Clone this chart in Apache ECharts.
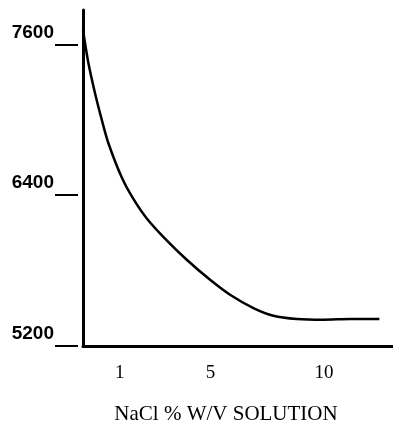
<!DOCTYPE html>
<html>
<head>
<meta charset="utf-8">
<script src="https://cdn.jsdelivr.net/npm/echarts@6/dist/echarts.min.js"></script>
<style>
html,body{margin:0;padding:0;background:#fff;}
#chart{width:393px;height:428px;}
</style>
</head>
<body>
<div id="chart"></div>
<script>
// NaCl concentration (% w/v) and measured value
const naclPercent = [-0.62, -0.38, -0.09, 0.21, 0.50, 1.09, 1.60, 2.19, 3.07, 3.95, 4.98, 5.86, 6.89, 7.77, 8.80, 9.97, 11.15, 12.44];
const values      = [7714, 7449, 7211, 6998, 6813, 6540, 6370, 6215, 6040, 5886, 5727, 5608, 5502, 5441, 5415, 5409, 5415, 5415];
const xTickLabels = [1, 5, 10];
const yTickLabels = [5200, 6400, 7600];
const xTitle = 'NaCl % W/V SOLUTION';

const chart = echarts.init(document.getElementById('chart'));
chart.setOption({
  animation: false,
  backgroundColor: '#fff',
  grid: { left: 83, right: 0, top: 10, bottom: 82, outerBoundsMode: 'none', containLabel: false },
  xAxis: {
    type: 'value',
    min: -0.62,
    max: 13.04,
    name: xTitle,
    nameLocation: 'middle',
    nameGap: 58,
    nameTextStyle: { fontFamily: 'Liberation Serif', fontSize: 21, color: '#000', padding: [0, 24, 0, 0] },
    axisLine: { show: true, onZero: false, lineStyle: { color: '#000', width: 3 } },
    axisTick: { show: false },
    splitLine: { show: false },
    axisLabel: {
      customValues: xTickLabels,
      margin: 18,
      fontFamily: 'Liberation Serif',
      fontSize: 19,
      color: '#000'
    }
  },
  yAxis: {
    type: 'value',
    min: 5200,
    max: 7873,
    axisLine: { show: true, onZero: false, lineStyle: { color: '#000', width: 3 } },
    axisTick: {
      show: true,
      customValues: yTickLabels,
      length: 28,
      lineStyle: { color: '#000', width: 2, type: [0, 5, 23, 100] }
    },
    splitLine: { show: false },
    axisLabel: {
      customValues: yTickLabels,
      formatter: (v) => String(v),
      margin: 29,
      verticalAlign: 'bottom',
      lineHeight: 24,
      fontFamily: 'Liberation Sans',
      fontWeight: 'bold',
      fontSize: 19,
      color: '#000'
    }
  },
  series: [{
    type: 'line',
    data: naclPercent.map((x, i) => [x, values[i]]),
    smooth: 0.3,
    showSymbol: false,
    clip: false,
    lineStyle: { color: '#000', width: 2.5 }
  }]
});
</script>
</body>
</html>
